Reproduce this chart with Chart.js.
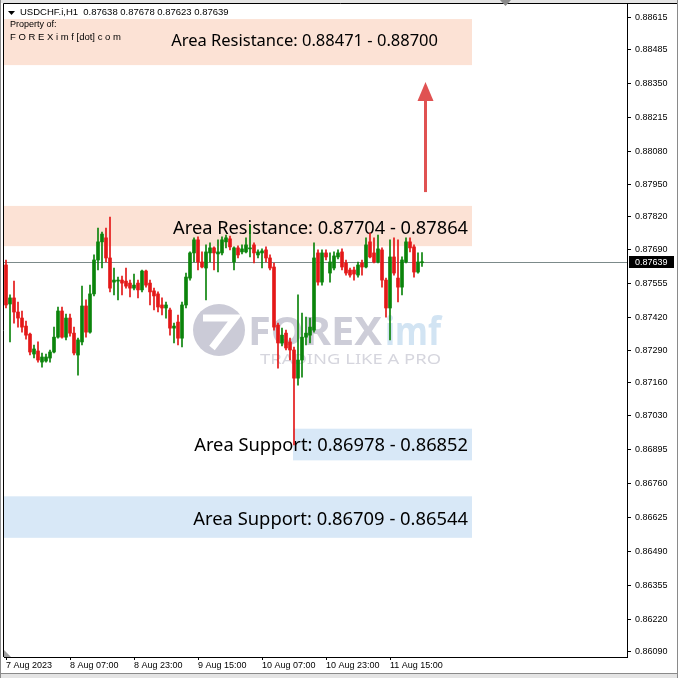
<!DOCTYPE html>
<html>
<head>
<meta charset="utf-8">
<script src="https://cdn.jsdelivr.net/npm/chart.js@4.4.1/dist/chart.umd.min.js"></script>
<style>
  html, body { margin: 0; padding: 0; background: #fff; }
  canvas { display: block; }
</style>
</head>
<body>
<canvas id="grafico" width="678" height="678"></canvas>
<script>
// USDCHF.i H1, 7 Aug 2023 15:00 .. 11 Aug 2023 23:00
const opens = [
  0.87629, 0.87474, 0.87498, 0.87442, 0.87418, 0.87386, 0.87354, 0.87275, 0.87287, 0.87243,
  0.87247, 0.87259, 0.87283, 0.87342, 0.87446, 0.87342, 0.87418, 0.87358, 0.87271, 0.87323,
  0.87466, 0.87362, 0.87514, 0.87649, 0.87721, 0.87737, 0.87657, 0.87561, 0.87565, 0.87569,
  0.87565, 0.87557, 0.87537, 0.87557, 0.87530, 0.87605, 0.87557, 0.87526, 0.87514, 0.87470,
  0.87458, 0.87450, 0.87378, 0.87402, 0.87338, 0.87470, 0.87577, 0.87677, 0.87729, 0.87641,
  0.87617, 0.87677, 0.87697, 0.87673, 0.87677, 0.87721, 0.87733, 0.87641, 0.87697, 0.87681,
  0.87681, 0.87693, 0.87709, 0.87669, 0.87677, 0.87689, 0.87657, 0.87621, 0.87390, 0.87319,
  0.87358, 0.87323, 0.87291, 0.87179, 0.87251, 0.87342, 0.87350, 0.87370, 0.87677, 0.87561,
  0.87677, 0.87597, 0.87617, 0.87661, 0.87681, 0.87637, 0.87609, 0.87609, 0.87589, 0.87637,
  0.87621, 0.87721, 0.87677, 0.87641, 0.87689, 0.87569, 0.87458, 0.87661, 0.87577, 0.87541,
  0.87641, 0.87721, 0.87701, 0.87601, 0.87638
];
const highs = [
  0.87649, 0.87510, 0.87565, 0.87482, 0.87446, 0.87406, 0.87358, 0.87311, 0.87323, 0.87279,
  0.87275, 0.87291, 0.87382, 0.87462, 0.87462, 0.87434, 0.87434, 0.87382, 0.87338, 0.87545,
  0.87490, 0.87549, 0.87669, 0.87776, 0.87760, 0.87776, 0.87820, 0.87617, 0.87581, 0.87585,
  0.87617, 0.87569, 0.87593, 0.87569, 0.87609, 0.87609, 0.87569, 0.87537, 0.87522, 0.87498,
  0.87482, 0.87458, 0.87398, 0.87430, 0.87482, 0.87597, 0.87681, 0.87737, 0.87741, 0.87681,
  0.87709, 0.87717, 0.87701, 0.87729, 0.87741, 0.87748, 0.87744, 0.87701, 0.87705, 0.87709,
  0.87737, 0.87788, 0.87717, 0.87689, 0.87693, 0.87701, 0.87669, 0.87637, 0.87398, 0.87378,
  0.87370, 0.87338, 0.87303, 0.87510, 0.87438, 0.87422, 0.87418, 0.87717, 0.87689, 0.87689,
  0.87689, 0.87677, 0.87681, 0.87689, 0.87693, 0.87649, 0.87617, 0.87621, 0.87641, 0.87649,
  0.87737, 0.87756, 0.87737, 0.87748, 0.87697, 0.87577, 0.87729, 0.87737, 0.87729, 0.87661,
  0.87737, 0.87737, 0.87709, 0.87677, 0.87678
];
const lows = [
  0.87458, 0.87323, 0.87398, 0.87382, 0.87362, 0.87334, 0.87271, 0.87259, 0.87243, 0.87223,
  0.87243, 0.87243, 0.87279, 0.87338, 0.87338, 0.87331, 0.87346, 0.87271, 0.87191, 0.87311,
  0.87342, 0.87358, 0.87506, 0.87609, 0.87617, 0.87641, 0.87522, 0.87510, 0.87490, 0.87510,
  0.87537, 0.87502, 0.87530, 0.87498, 0.87522, 0.87541, 0.87470, 0.87450, 0.87442, 0.87430,
  0.87418, 0.87350, 0.87319, 0.87311, 0.87303, 0.87458, 0.87569, 0.87641, 0.87609, 0.87617,
  0.87490, 0.87641, 0.87609, 0.87601, 0.87669, 0.87697, 0.87689, 0.87609, 0.87657, 0.87673,
  0.87677, 0.87661, 0.87637, 0.87657, 0.87617, 0.87641, 0.87609, 0.87370, 0.87219, 0.87307,
  0.87291, 0.87251, 0.86913, 0.87151, 0.87183, 0.87311, 0.87319, 0.87362, 0.87549, 0.87549,
  0.87649, 0.87561, 0.87609, 0.87653, 0.87609, 0.87589, 0.87581, 0.87569, 0.87581, 0.87589,
  0.87617, 0.87657, 0.87637, 0.87637, 0.87541, 0.87422, 0.87331, 0.87589, 0.87482, 0.87510,
  0.87637, 0.87681, 0.87581, 0.87597, 0.87623
];
const closes = [
  0.87470, 0.87498, 0.87442, 0.87418, 0.87382, 0.87350, 0.87283, 0.87295, 0.87251, 0.87263,
  0.87263, 0.87283, 0.87342, 0.87446, 0.87342, 0.87418, 0.87358, 0.87279, 0.87331, 0.87466,
  0.87362, 0.87514, 0.87649, 0.87721, 0.87752, 0.87657, 0.87537, 0.87569, 0.87569, 0.87557,
  0.87545, 0.87537, 0.87549, 0.87530, 0.87605, 0.87549, 0.87522, 0.87506, 0.87462, 0.87458,
  0.87470, 0.87378, 0.87386, 0.87338, 0.87470, 0.87581, 0.87677, 0.87729, 0.87641, 0.87621,
  0.87681, 0.87697, 0.87677, 0.87681, 0.87729, 0.87737, 0.87701, 0.87697, 0.87669, 0.87693,
  0.87709, 0.87697, 0.87677, 0.87681, 0.87685, 0.87657, 0.87617, 0.87382, 0.87319, 0.87350,
  0.87299, 0.87291, 0.87179, 0.87251, 0.87342, 0.87358, 0.87382, 0.87657, 0.87561, 0.87677,
  0.87661, 0.87641, 0.87665, 0.87677, 0.87621, 0.87597, 0.87589, 0.87593, 0.87629, 0.87621,
  0.87709, 0.87661, 0.87641, 0.87693, 0.87569, 0.87458, 0.87661, 0.87597, 0.87541, 0.87649,
  0.87721, 0.87697, 0.87601, 0.87641, 0.87639
];
const lastPrice = 0.87639;

const timeLabels = ['7 Aug 2023', '8 Aug 07:00', '8 Aug 23:00', '9 Aug 15:00', '10 Aug 07:00', '10 Aug 23:00', '11 Aug 15:00'];
const timeTickBars = [0, 16, 32, 48, 64, 80, 96];
const priceTicks = [0.88615, 0.88485, 0.88350, 0.88215, 0.88080, 0.87950, 0.87820, 0.87690, 0.87555, 0.87420,
  0.87290, 0.87160, 0.87030, 0.86895, 0.86760, 0.86625, 0.86490, 0.86355, 0.86220, 0.86090];

// zones as drawn on the chart
const zoneTop = [0.88607, 0.87864, 0.86978, 0.86709];
const zoneBottom = [0.88424, 0.87704, 0.86852, 0.86544];
const zoneFrom = [-0.5, -0.5, 71.75, -0.5];
const zoneTo = [116.5, 116.5, 116.5, 116.5];
const zoneKind = ['res', 'res', 'sup', 'sup'];
const zoneText = ['Area Resistance: 0.88471 - 0.88700', 'Area Resistance: 0.87704 - 0.87864',
  'Area Support: 0.86978 - 0.86852', 'Area Support: 0.86709 - 0.86544'];

const arrowBar = 104.75, arrowFrom = 0.87919, arrowTo = 0.88357;

const VERDE = '#0b840b';
const VERMELHO = '#e41818';
const cores = closes.map((c, i) => c >= opens[i] ? VERDE : VERMELHO);

Chart.defaults.font.family = '"Liberation Sans", Arial, sans-serif';

const overlay = {
  id: 'overlay',
  beforeDatasetsDraw(chart) {
    const { ctx, chartArea: a, scales: { x, y } } = chart;
    ctx.save();
    ctx.beginPath();
    ctx.rect(a.left, a.top, a.right - a.left, a.bottom - a.top);
    ctx.clip();

    // zones
    zoneTop.forEach((t, i) => {
      const x0 = x.getPixelForValue(zoneFrom[i]);
      const x1 = x.getPixelForValue(zoneTo[i]);
      const y0 = y.getPixelForValue(t);
      const y1 = y.getPixelForValue(zoneBottom[i]);
      ctx.fillStyle = zoneKind[i] === 'res' ? '#fce2d5' : '#d8e8f7';
      ctx.fillRect(x0, y0, x1 - x0, y1 - y0);
    });

    // watermark
    ctx.fillStyle = '#cbcbd7';
    ctx.beginPath();
    ctx.arc(219, 330, 26, 0, Math.PI * 2);
    ctx.fill();
    ctx.strokeStyle = '#ffffff';
    ctx.lineWidth = 7;
    ctx.beginPath();
    ctx.moveTo(203, 318);
    ctx.lineTo(235, 318);
    ctx.lineTo(212, 348);
    ctx.stroke();

    const stretch = (txt, font, color, x0, base, w) => {
      ctx.font = font;
      const m = ctx.measureText(txt).width;
      ctx.save();
      ctx.translate(x0, base);
      ctx.scale(w / m, 1);
      ctx.fillStyle = color;
      ctx.textAlign = 'left';
      ctx.textBaseline = 'alphabetic';
      ctx.fillText(txt, 0, 0);
      ctx.restore();
    };
    stretch('FOREX', 'bold 39px "Noto Sans"', '#cdcdd8', 248, 345, 134);
    stretch('imf', 'bold 39px "Noto Sans"', '#d2e4f3', 385, 345, 56);
    stretch('TRADING LIKE A PRO', '15px "Noto Sans"', '#d6d6de', 260, 364, 181);

    // current price line
    const py = Math.round(y.getPixelForValue(lastPrice)) + 0.5;
    ctx.strokeStyle = '#7c8a8a';
    ctx.lineWidth = 1;
    ctx.beginPath();
    ctx.moveTo(a.left, py);
    ctx.lineTo(a.right, py);
    ctx.stroke();

    // zone captions, font sized to the width they take in the picture
    const captionWidth = [267, 295, 274, 275];
    const captionRight = [108, 115.5, 115.5, 115.5];
    const captionShift = [-1, 3, 1, 3];
    ctx.fillStyle = '#000';
    ctx.textBaseline = 'middle';
    ctx.textAlign = 'right';
    zoneText.forEach((t, i) => {
      ctx.font = '20px "Noto Sans"';
      const size = 20 * captionWidth[i] / ctx.measureText(t).width;
      ctx.font = size.toFixed(2) + 'px "Noto Sans"';
      const yMid = y.getPixelForValue((zoneTop[i] + zoneBottom[i]) / 2) + captionShift[i];
      ctx.fillText(t, x.getPixelForValue(captionRight[i]), yMid);
    });

    // arrow
    const ax = Math.round(x.getPixelForValue(arrowBar)) + 0.5;
    const ay0 = y.getPixelForValue(arrowFrom);
    const ay1 = y.getPixelForValue(arrowTo);
    ctx.strokeStyle = '#e05252';
    ctx.fillStyle = '#e05252';
    ctx.lineWidth = 3;
    ctx.beginPath();
    ctx.moveTo(ax, ay0);
    ctx.lineTo(ax, ay1 + 14);
    ctx.stroke();
    ctx.beginPath();
    ctx.moveTo(ax, ay1);
    ctx.lineTo(ax - 8, ay1 + 19);
    ctx.lineTo(ax + 8, ay1 + 19);
    ctx.closePath();
    ctx.fill();

    ctx.restore();
  },
  afterDraw(chart) {
    const { ctx, chartArea: a, scales: { y } } = chart;
    ctx.save();

    // header
    ctx.fillStyle = '#000';
    ctx.beginPath();
    ctx.moveTo(8, 11); ctx.lineTo(15, 11); ctx.lineTo(11.5, 15);
    ctx.closePath();
    ctx.fill();
    ctx.font = '9.5px "Liberation Sans"';
    ctx.textAlign = 'left';
    ctx.textBaseline = 'middle';
    ctx.fillText('USDCHF.i,H1  0.87638 0.87678 0.87623 0.87639', 20, 12.5);
    ctx.font = '9px "Liberation Sans"';
    ctx.fillText('Property of:', 10, 25);
    ctx.font = '9.5px "Liberation Sans"';
    ctx.fillText('F O R E X i m f [dot] c o m', 10, 37);

    // current price box
    const py = Math.round(y.getPixelForValue(lastPrice));
    ctx.fillStyle = '#000';
    ctx.fillRect(a.right + 2, py - 6, 45, 12);
    ctx.fillStyle = '#fff';
    ctx.font = '9px "Liberation Sans"';
    ctx.fillText(lastPrice.toFixed(5), a.right + 8, py + 0.5);

    // frame
    ctx.strokeStyle = '#000';
    ctx.lineWidth = 1;
    ctx.beginPath();
    ctx.moveTo(a.left - 0.5, a.bottom);
    ctx.lineTo(a.left - 0.5, a.top - 0.5);
    ctx.lineTo(678, a.top - 0.5);
    ctx.stroke();
    ctx.fillStyle = '#e4e4e4';
    ctx.fillRect(0, 0, 678, a.top - 1);
    ctx.fillRect(0, 673, 678, 5);
    ctx.fillStyle = '#8a8a8a';
    ctx.fillRect(0, 673, 678, 1);
    ctx.fillRect(0, 0, 1, 678);
    ctx.fillRect(677, 0, 1, 678);
    ctx.beginPath();
    ctx.moveTo(500, 0); ctx.lineTo(511, 0); ctx.lineTo(505.5, 6);
    ctx.closePath();
    ctx.fill();
    ctx.fillStyle = '#a0a0a0';
    ctx.beginPath();
    ctx.moveTo(a.left, a.bottom - 7); ctx.lineTo(a.left, a.bottom); ctx.lineTo(a.left + 7, a.bottom);
    ctx.closePath();
    ctx.fill();
    ctx.restore();
  }
};

const ctx = document.getElementById('grafico').getContext('2d');
new Chart(ctx, {
  type: 'bar',
  data: {
    datasets: [{
      label: 'wicks',
      data: lows.map((l, i) => ({ x: i, y: [l, highs[i]] })),
      backgroundColor: cores,
      barThickness: 1,
      grouped: false,
      order: 2
    }, {
      label: 'bodies',
      data: opens.map((o, i) => ({ x: i, y: [o, closes[i]] })),
      backgroundColor: cores,
      barThickness: 3,
      minBarLength: 1,
      grouped: false,
      order: 1
    }]
  },
  options: {
    responsive: false,
    animation: false,
    devicePixelRatio: 1,
    layout: { padding: { left: 4, top: 4, right: 0, bottom: 0 } },
    plugins: { legend: { display: false }, tooltip: { enabled: false } },
    scales: {
      x: {
        type: 'linear',
        bounds: 'data',
        offset: false,
        min: -0.5,
        max: 155.25,
        afterBuildTicks: s => { s.ticks = timeTickBars.map(v => ({ value: v })); },
        afterFit: s => { s.height = 21; s.paddingLeft = 0; s.paddingRight = 0; },
        ticks: {
          autoSkip: false, maxRotation: 0, align: 'start', padding: 0,
          color: '#000', font: { size: 9 },
          callback: (v, i) => timeLabels[i]
        },
        grid: { offset: false, drawOnChartArea: false, drawTicks: true, tickLength: 3, color: '#000' },
        border: { color: '#000' }
      },
      y: {
        type: 'linear',
        position: 'right',
        bounds: 'data',
        min: 0.86070,
        max: 0.88667,
        afterBuildTicks: s => { s.ticks = priceTicks.map(v => ({ value: v })); },
        afterFit: s => { s.width = 51; s.paddingTop = 0; s.paddingBottom = 0; },
        ticks: {
          autoSkip: false, padding: 4, color: '#000', font: { size: 9 },
          callback: v => v.toFixed(5)
        },
        grid: { drawOnChartArea: false, drawTicks: true, tickLength: 4, color: '#000' },
        border: { color: '#000' }
      }
    }
  },
  plugins: [overlay]
});
</script>
</body>
</html>
